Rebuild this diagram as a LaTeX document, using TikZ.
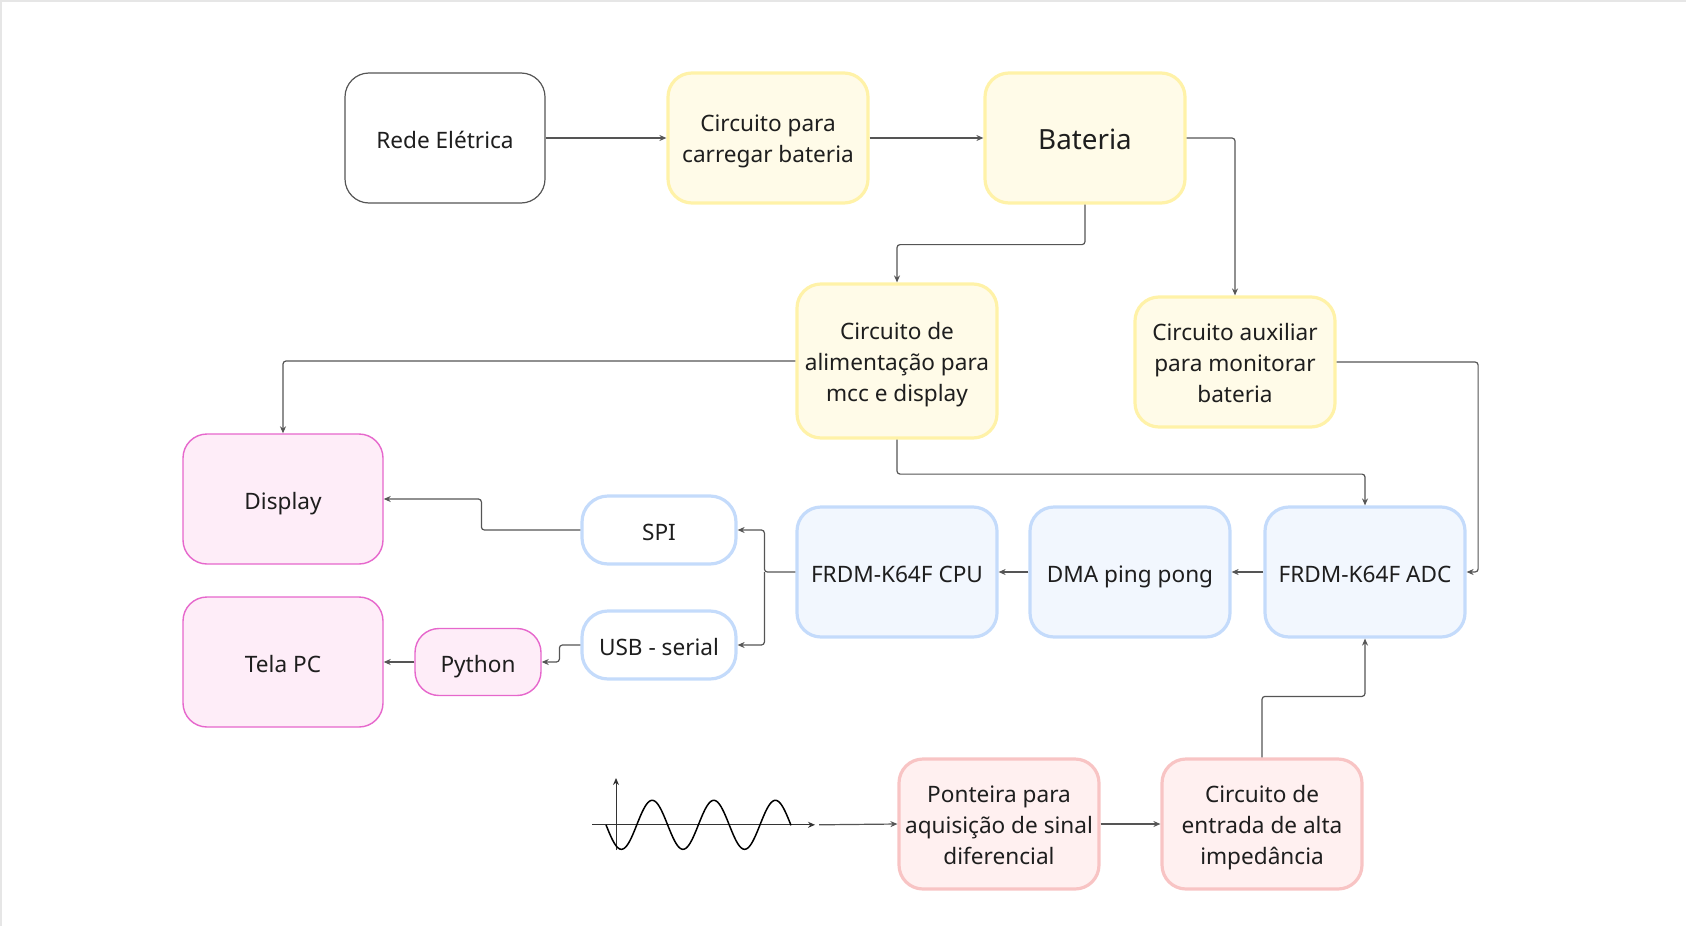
\documentclass[tikz,border=0pt]{standalone}
\usepackage{fontspec}
\setmainfont{Noto Sans}
\usetikzlibrary{arrows.meta}
\definecolor{yfill}{HTML}{FFFBE8}
\definecolor{ydraw}{HTML}{FFF2A8}
\definecolor{pfill}{HTML}{FEEDF8}
\definecolor{pdraw}{HTML}{E667CC}
\definecolor{bfill}{HTML}{F2F7FE}
\definecolor{bdraw}{HTML}{C4DBFB}
\definecolor{rfill}{HTML}{FFF0F0}
\definecolor{rdraw}{HTML}{F8C4C4}
\definecolor{linec}{HTML}{555555}
\definecolor{txt}{HTML}{1E1E1E}
\definecolor{frame}{HTML}{E6E6E6}
\newcommand\tstrut{\rule[-0.27em]{0pt}{1.07em}}
\begin{document}
\begin{tikzpicture}[x=0.5pt,y=-0.5pt,
  box/.style={rounded corners=12pt, inner sep=0pt, minimum width=100pt, minimum height=65pt},
  tl/.style={align=center, inner sep=0pt, text=txt, yshift=-2.1pt,
    font=\fontsize{11.3}{15.5}\selectfont,
    execute at begin node=\tstrut, execute at end node=\tstrut},
  big/.style={font=\fontsize{13.9}{16}\selectfont},
  wbox/.style={box, fill=white, draw=linec, line width=0.6pt},
  ybox/.style={box, fill=yfill, draw=ydraw, line width=1.6pt},
  pbox/.style={box, fill=pfill, draw=pdraw, line width=0.7pt},
  bbox/.style={box, fill=bfill, draw=bdraw, line width=1.6pt},
  obox/.style={box, fill=white, draw=bdraw, line width=1.6pt, minimum width=77pt, minimum height=34pt, rounded corners=13pt},
  rbox/.style={box, fill=rfill, draw=rdraw, line width=1.6pt},
  conn/.style={draw=linec, line width=0.6pt, rounded corners=1.5pt, -{Stealth[length=3.5pt,width=3pt]}},
  wave/.style={draw=black, line width=0.75pt},
  axis/.style={draw=black!80, line width=0.5pt, -{Stealth[length=3.5pt,width=3pt]}}
]
\useasboundingbox (0,0) rectangle (1686,926);
\draw[frame, line width=1pt] (0.5,926) -- (0.5,0.5) -- (1686,0.5);

% nodes
\node[wbox, label={[tl]center:Rede Elétrica}] (rede) at (445,138) {};
\node[ybox, label={[tl]center:{Circuito para\\carregar bateria}}] (carr) at (768,138) {};
\node[ybox, label={[tl,big]center:Bateria}] (bat) at (1085,138) {};
\node[ybox, minimum height=77pt, label={[tl]center:{Circuito de\\alimentação para\\mcc e display}}] (alim) at (897,361) {};
\node[ybox, label={[tl]center:{Circuito auxiliar\\para monitorar\\bateria}}] (aux) at (1235,362) {};
\node[pbox, label={[tl]center:Display}] (disp) at (283,499) {};
\node[pbox, label={[tl]center:Tela PC}] (tela) at (283,662) {};
\node[pbox, minimum width=63pt, minimum height=33.5pt, rounded corners=12pt, label={[tl]center:Python}] (py) at (478,662) {};
\node[obox, label={[tl]center:SPI}] (spi) at (659,530) {};
\node[obox, label={[tl]center:USB - serial}] (usb) at (659,645) {};
\node[bbox, label={[tl]center:FRDM-K64F CPU}] (cpu) at (897,572) {};
\node[bbox, label={[tl]center:DMA ping pong}] (dma) at (1130,572) {};
\node[bbox, label={[tl]center:FRDM-K64F ADC}] (adc) at (1365,572) {};
\node[rbox, label={[tl]center:{Ponteira para\\aquisição de sinal\\diferencial}}] (pont) at (999,824) {};
\node[rbox, label={[tl]center:{Circuito de\\entrada de alta\\impedância}}] (entr) at (1262,824) {};

% signal symbol
\coordinate (xa0) at (592,824.8);
\coordinate (xa1) at (815,824.8);
\coordinate (ya0) at (616,850);
\coordinate (ya1) at (616,778);
\draw[axis] (xa0) -- (xa1);
\draw[axis] (ya0) -- (ya1);
\draw[wave] plot[domain=606:791, samples=160, smooth] (\x, {824.8+24.5*sin((\x-606)/61.6*360)});
\coordinate (sig) at (819,824.8);

% connectors
\draw[conn] (rede.east) -- (carr.west);
\draw[conn] (carr.east) -- (bat.west);
\draw[conn] (bat.east) -| (aux.north);
\draw[conn] (bat.south) -- ++(0,40) -| (alim.north);
\draw[conn] (alim.west) -| (disp.north);
\draw[conn] (alim.south) -- ++(0,34.5) -| (adc.north);
\draw[conn] (aux.east) -- ++(141.5,0) |- (adc.east);
\draw[conn] (adc.west) -- (dma.east);
\draw[conn] (dma.west) -- (cpu.east);
\coordinate (j) at ([xshift=-15.5pt]cpu.west);
\draw[conn] (cpu.west) -- (j) |- (spi.east);
\draw[conn] (j) |- (usb.east);
\draw[conn] (spi.west) -- ++(-99,0) |- (disp.east);
\draw[conn] (usb.west) -- ++(-21,0) |- (py.east);
\draw[conn] (py.west) -- (tela.east);
\draw[conn] (entr.north) -- ++(0,-61) -| (adc.south);
\draw[conn] (pont.east) -- (entr.west);
\draw[conn] (sig) -- (pont.west);
\end{tikzpicture}
\end{document}
